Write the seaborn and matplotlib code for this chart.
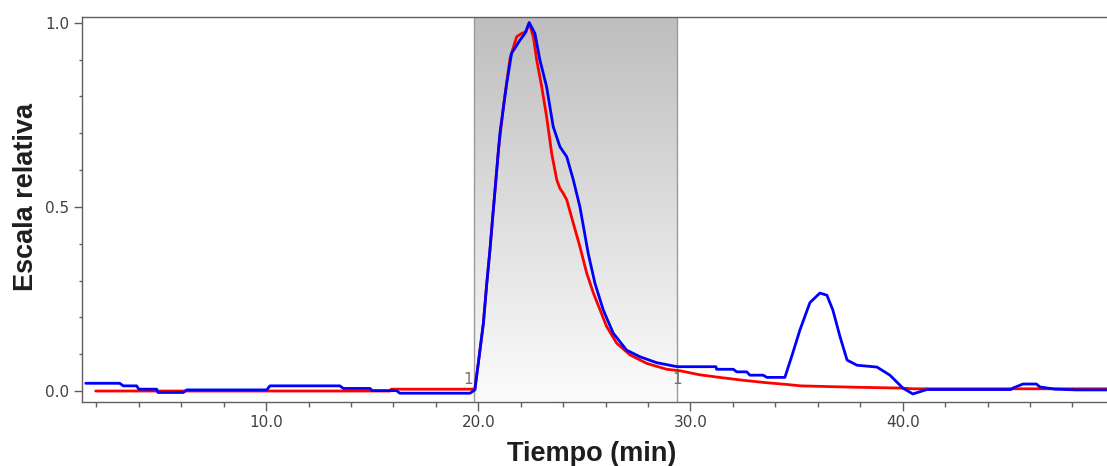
import numpy as np
import pandas as pd
import matplotlib
matplotlib.use("Agg")
import matplotlib.pyplot as plt
from matplotlib.ticker import MultipleLocator, FormatStrFormatter
from matplotlib.colors import LinearSegmentedColormap
import seaborn as sns

# ---------------- data ----------------
red_time = [1.97, 15.84, 15.9, 19.7, 19.84, 20.0, 20.24, 20.4, 20.55, 20.68, 20.79, 20.95,
            21.2, 21.5, 21.81, 22.05, 22.25, 22.4, 22.6, 22.75, 22.99, 23.22, 23.46, 23.7,
            23.85, 24.0, 24.17, 24.48, 24.79, 25.11, 25.43, 25.74, 26.05, 26.52, 27.15,
            27.94, 28.88, 29.5, 30.44, 31.5, 32.5, 33.5, 34.5, 35.2, 36.5, 38.0, 39.9, 40.5,
            45.0, 49.7]
red_value = [0.0, 0.0, 0.005, 0.005, 0.006, 0.075, 0.184, 0.292, 0.383, 0.473, 0.546, 0.654,
             0.78, 0.905, 0.962, 0.971, 0.975, 1.0, 0.96, 0.90, 0.826, 0.745, 0.645, 0.573,
             0.55, 0.537, 0.519, 0.455, 0.392, 0.32, 0.265, 0.22, 0.175, 0.13, 0.098,
             0.075, 0.059, 0.055, 0.044, 0.036, 0.029, 0.023, 0.018, 0.014, 0.012, 0.010,
             0.008, 0.006, 0.006, 0.006]

blue_time = [1.5, 3.1, 3.27, 3.9, 4.0, 4.84, 4.9, 6.1, 6.26, 10.03, 10.18, 13.48, 13.64,
             14.9, 15.0, 16.15, 16.3, 19.61, 19.84, 20.0, 20.24, 20.4, 20.55, 20.68, 20.79,
             20.95, 21.02, 21.34, 21.57, 21.97, 22.2, 22.4, 22.67, 22.9, 23.22, 23.53, 23.85,
             24.17, 24.48, 24.79, 25.18, 25.5, 25.89, 26.36, 26.99, 27.62, 28.4, 29.19, 29.4,
             31.2, 31.23, 32.02, 32.18, 32.65, 32.8, 33.43, 33.6, 34.45, 34.82, 35.16, 35.63,
             36.1, 36.43, 36.71, 37.05, 37.38, 37.85, 38.79, 39.4, 40.01, 40.48, 41.14, 45.1,
             45.2, 45.67, 46.3, 46.47, 47.18, 48.2, 49.7]
blue_value = [0.021, 0.021, 0.014, 0.014, 0.005, 0.005, -0.004, -0.004, 0.003, 0.003, 0.014,
              0.014, 0.007, 0.007, 0.001, 0.001, -0.006, -0.006, 0.003, 0.075, 0.184, 0.292,
              0.383, 0.473, 0.546, 0.654, 0.70, 0.835, 0.917, 0.953, 0.971, 1.0, 0.971, 0.90,
              0.826, 0.718, 0.663, 0.636, 0.573, 0.50, 0.374, 0.292, 0.22, 0.157, 0.111, 0.093,
              0.077, 0.068, 0.066, 0.066, 0.059, 0.059, 0.052, 0.052, 0.043, 0.043, 0.037,
              0.037, 0.103, 0.166, 0.24, 0.266, 0.26, 0.22, 0.147, 0.084, 0.07, 0.065, 0.043,
              0.008, -0.008, 0.004, 0.004, 0.008, 0.019, 0.019, 0.011, 0.005, 0.003, 0.003]

region = [19.8, 29.35]          # shaded integration window
region_labels = ["1", "1"]

x_label = "Tiempo (min)"
y_label = "Escala relativa"
x_ticks = [10.0, 20.0, 30.0, 40.0]
y_ticks = [0.0, 0.5, 1.0]

# ---------------- figure ----------------
sns.set_style("ticks")
plt.rcParams["font.family"] = ["DejaVu Sans"]

fig = plt.figure(figsize=(11.07, 4.66), dpi=100)
ax = fig.add_axes([0.0738, 0.138, 0.9262, 0.8249])

xlim = (1.31, 49.63)
ylim = (-0.029, 1.0147)

# gradient shaded region
cmap = LinearSegmentedColormap.from_list("g", ["#bebebe", "#fcfcfc"])
grad = np.linspace(0, 1, 256).reshape(-1, 1)
ax.imshow(grad, cmap=cmap, extent=[region[0], region[1], ylim[0], ylim[1]],
          aspect="auto", origin="upper", zorder=0)
for xr in region:
    ax.axvline(xr, color="#9a9a9a", lw=1.0, zorder=1)

df_red = pd.DataFrame({"t": red_time, "v": red_value})
df_blue = pd.DataFrame({"t": blue_time, "v": blue_value})
sns.lineplot(data=df_red, x="t", y="v", ax=ax, color="#ff0000", lw=2.0, zorder=3, sort=False)
sns.lineplot(data=df_blue, x="t", y="v", ax=ax, color="#0000ff", lw=2.0, zorder=4, sort=False)

ax.text(region[0] - 0.05, 0.03, region_labels[0], ha="right", va="center",
        fontsize=11, color="#707070", zorder=5)
ax.text(region[1], 0.03, region_labels[1], ha="center", va="center",
        fontsize=11, color="#707070", zorder=5)

ax.set_xlim(*xlim)
ax.set_ylim(*ylim)

ax.xaxis.set_major_locator(plt.FixedLocator(x_ticks))
ax.xaxis.set_minor_locator(MultipleLocator(2))
ax.yaxis.set_major_locator(plt.FixedLocator(y_ticks))
ax.yaxis.set_minor_locator(MultipleLocator(0.1))
ax.xaxis.set_major_formatter(FormatStrFormatter("%.1f"))
ax.yaxis.set_major_formatter(FormatStrFormatter("%.1f"))

ax.tick_params(axis="x", which="major", length=6.5, width=1, color="#606060",
               labelsize=11, labelcolor="#404040", pad=3)
ax.tick_params(axis="x", which="minor", length=3.6, width=1, color="#606060")
ax.tick_params(axis="y", which="major", length=5.8, width=1, color="#606060",
               labelsize=11, labelcolor="#404040", pad=3)
ax.tick_params(axis="y", which="minor", length=2.5, width=1, color="#606060")

for s in ["left", "bottom", "top"]:
    ax.spines[s].set_color("#606060")
    ax.spines[s].set_linewidth(1.0)
ax.spines["right"].set_visible(False)

ax.set_xlabel(x_label, fontsize=19.5, fontweight="bold", color="#1e1e1e",
              family=["Liberation Sans", "DejaVu Sans"])
ax.set_ylabel(y_label, fontsize=19.5, fontweight="bold", color="#1e1e1e",
              family=["Liberation Sans", "DejaVu Sans"])
ax.xaxis.label.set_va("top")
ax.yaxis.label.set_va("center")
ax.xaxis.set_label_coords(0.497, -0.101)
ax.yaxis.set_label_coords(-0.054, 0.532)

fig.savefig("out.png", dpi=100, facecolor="white")
